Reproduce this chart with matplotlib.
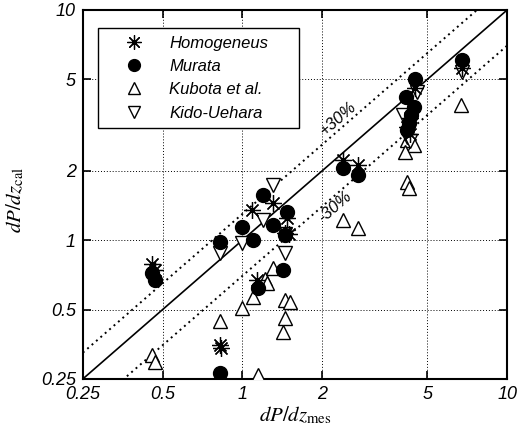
import numpy as np
import matplotlib
matplotlib.use('Agg')
from matplotlib import pyplot as plt
from matplotlib.ticker import NullLocator

plt.rcParams['mathtext.fontset'] = 'stix'
plt.rcParams['font.family'] = 'Liberation Sans'

# measured vs calculated pressure gradient, one pair of lists per model
homog_mes = [0.456, 0.47, 0.826, 0.83, 1.09, 1.14, 1.31, 1.48, 1.45, 1.5, 2.39, 2.73, 4.5, 4.2, 4.3, 6.75, 4.3]
homog_cal = [0.79, 0.74, 0.35, 0.34, 1.35, 0.67, 1.45, 1.25, 1.08, 1.06, 2.23, 2.12, 4.6, 3.1, 3.4, 5.6, 2.9]

murata_mes = [0.456, 0.47, 0.826, 0.826, 1.0, 1.1, 1.15, 1.2, 1.31, 1.43, 1.45, 1.48,
              2.41, 2.73, 4.14, 4.5, 4.44, 4.33, 4.25, 4.2, 6.75]
murata_cal = [0.72, 0.67, 0.98, 0.264, 1.14, 1.0, 0.62, 1.57, 1.16, 0.74, 1.05, 1.32,
              2.06, 1.92, 4.19, 5.0, 3.79, 3.5, 3.23, 3.0, 6.06]

kubota_mes = [0.456, 0.47, 0.826, 1.0, 1.1, 1.15, 1.22, 1.24, 1.31, 1.45, 1.52, 1.45, 1.43,
              2.41, 2.73, 4.2, 4.26, 4.2, 4.44, 4.1, 6.7]
kubota_cal = [0.316, 0.295, 0.445, 0.51, 0.565, 0.26, 0.68, 0.65, 0.755, 0.55, 0.54, 0.46, 0.40,
              1.22, 1.13, 1.79, 1.68, 2.72, 2.59, 2.41, 3.86]

kido_mes = [0.826, 1.0, 1.2, 1.31, 1.45, 1.45, 4.55, 4.05, 4.2, 4.3, 6.75]
kido_cal = [0.88, 0.97, 1.22, 1.73, 0.88, 1.06, 4.4, 3.5, 2.8, 2.7, 5.4]

ticks = [0.25, 0.5, 1, 2, 5, 10]
tick_labels = ['0.25', '0.5', '1', '2', '5', '10']
band = [1.3, 0.7]

fig = plt.figure(figsize=(5.18, 4.34), dpi=100)
ax = fig.add_axes([0.160, 0.127, 0.819, 0.850])

ax.set_xscale('log')
ax.set_yscale('log')
ax.set_xlim(0.25, 10)
ax.set_ylim(0.25, 10)

ref = np.array([0.25, 10])
ax.plot(ref, ref, color='black', lw=1.2, zorder=2)
for f in band:
    ax.plot(ref, ref * f, color='black', lw=1.4, ls=(0, (1, 2)), zorder=2)

ax.text(2.31, 3.39, '+30%', rotation=41, ha='center', va='center',
        fontsize=12, style='italic', rotation_mode='anchor')
ax.text(2.23, 1.39, '-30%', rotation=41, ha='center', va='center',
        fontsize=12, style='italic', rotation_mode='anchor')

ax.plot(kubota_mes, kubota_cal, ls='none', marker='^', ms=10, mfc='white',
        mec='black', mew=1.0, label='Kubota et al.', zorder=3)
ax.plot(kido_mes, kido_cal, ls='none', marker='v', ms=10, mfc='white',
        mec='black', mew=1.0, label='Kido-Uehara', zorder=3)
ax.plot(murata_mes, murata_cal, ls='none', marker='o', ms=10, mfc='black',
        mec='black', label='Murata', zorder=4)
ax.plot(homog_mes, homog_cal, ls='none', marker=(8, 2, 0), ms=12,
        mec='black', mew=0.9, label='Homogeneus', zorder=5)

handles, labels = ax.get_legend_handles_labels()
order = [3, 2, 0, 1]
leg = ax.legend([handles[i] for i in order], [labels[i] for i in order],
                loc='upper left', bbox_to_anchor=(0.035, 0.5, 0.474, 0.451),
                mode='expand', borderaxespad=0,
                prop={'style': 'italic', 'size': 12}, frameon=True, fancybox=False,
                edgecolor='black', framealpha=1, markerscale=0.85,
                handlelength=3.4, handletextpad=0.45, borderpad=0.45, labelspacing=0.5)
leg.get_frame().set_linewidth(1.0)

ax.xaxis.set_minor_locator(NullLocator())
ax.yaxis.set_minor_locator(NullLocator())
ax.set_xticks(ticks)
ax.set_xticklabels(tick_labels, style='italic', fontsize=13)
ax.set_yticks(ticks)
ax.set_yticklabels(tick_labels, style='italic', fontsize=13)
ax.tick_params(direction='in', length=6, width=1.2, top=True, right=True, pad=5)
ax.grid(True, color='black', ls=(0, (1, 2)), lw=0.7)

for s in ax.spines.values():
    s.set_linewidth(1.5)

ax.set_xlabel(r'$dP/dz_{\mathrm{mes}}$', fontsize=15)
ax.set_ylabel(r'$dP/dz_{\mathrm{cal}}$', fontsize=15)
ax.xaxis.set_label_coords(0.5, -0.07)
ax.yaxis.set_label_coords(-0.135, 0.485)

fig.savefig('out.png', dpi=100)
